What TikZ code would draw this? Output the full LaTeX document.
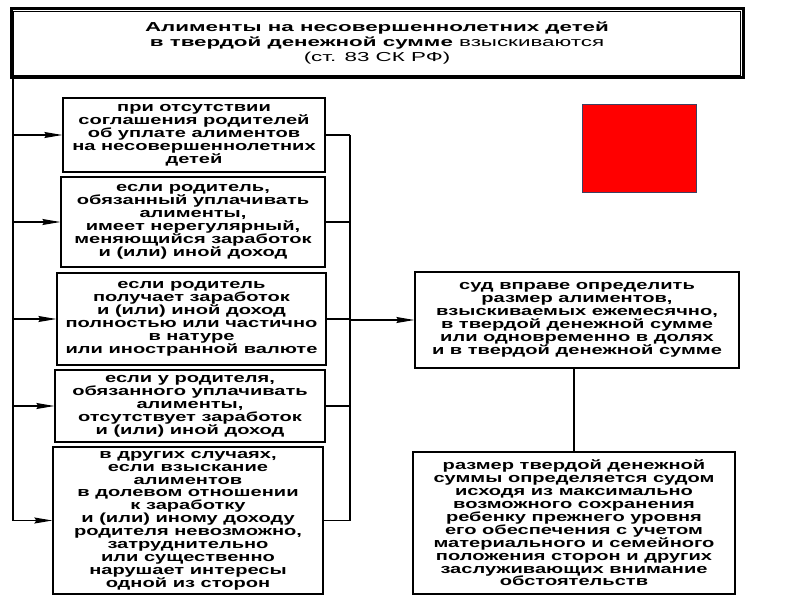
\documentclass[tikz,border=0pt]{standalone}
\usepackage{fontspec}
\setmainfont{Liberation Sans}
\newfontfamily\bodyf{Liberation Sans}[FakeStretch=1.52]
\newfontfamily\titlef{Liberation Sans}[FakeStretch=1.72]
\usetikzlibrary{arrows.meta}
\tikzset{
  box/.style={draw=black, line width=1.3pt, inner sep=0pt, align=center,
    font=\bodyf\bfseries\fontsize{13.2}{12.9}\selectfont, text=black},
  conn/.style={draw=black, line width=1.1pt},
  arr/.style={conn, -{Stealth[length=18pt,width=6pt,inset=2pt]}},
}
\begin{document}
\begin{tikzpicture}[x=1pt,y=-1pt]
\useasboundingbox (0,0) rectangle (800,600);
\fill[white] (0,0) rectangle (800,600);
% title box
\node[draw=black, line width=3pt, inner sep=0pt, minimum width=732pt, minimum height=69pt,
  align=center, font=\titlef\fontsize{13}{15}\selectfont] (top) at (377,43)
  {\bfseries Алименты на несовершеннолетних детей\\
   {\bfseries в твердой денежной сумме} взыскиваются\\
   (ст. 83 СК РФ)};
\draw[line width=0.8pt] ([shift={(4pt,4pt)}]top.south west) rectangle ([shift={(-4pt,-4pt)}]top.north east);
% left boxes
\node[box, minimum width=262pt, minimum height=74pt] (b1) at (194,135)
  {при отсутствии\\соглашения родителей\\об уплате алиментов\\на несовершеннолетних\\детей};
\node[box, minimum width=264pt, minimum height=90pt] (b2) at (193,222)
  {если родитель,\\обязанный уплачивать\\алименты,\\имеет нерегулярный,\\меняющийся заработок\\и (или) иной доход};
\node[box, minimum width=269pt, minimum height=92pt] (b3) at (191.5,319)
  {если родитель\\получает заработок\\и (или) иной доход\\полностью или частично\\в натуре\\или иностранной валюте};
\node[box, minimum width=270pt, minimum height=72pt] (b4) at (190,406)
  {если у родителя,\\обязанного уплачивать\\алименты,\\отсутствует заработок\\и (или) иной доход};
\node[box, minimum width=270pt, minimum height=147pt] (b5) at (188,520.5)
  {в других случаях,\\если взыскание\\алиментов\\в долевом отношении\\к заработку\\и (или) иному доходу\\родителя невозможно,\\затруднительно\\или существенно\\нарушает интересы\\одной из сторон};
% right boxes
\node[box, minimum width=324pt, minimum height=96pt] (r1) at (577,320)
  {суд вправе определить\\размер алиментов,\\взыскиваемых ежемесячно,\\в твердой денежной сумме\\или одновременно в долях\\и в твердой денежной сумме};
\node[box, minimum width=322pt, minimum height=142pt] (r2) at (574,523)
  {размер твердой денежной\\суммы определяется судом\\исходя из максимально\\возможного сохранения\\ребенку прежнего уровня\\его обеспечения с учетом\\материального и семейного\\положения сторон и других\\заслуживающих внимание\\обстоятельств};
% red square
\node[draw={rgb,255:red,64;green,64;blue,96}, line width=1pt, fill={rgb,255:red,255;green,0;blue,0},
  minimum width=114pt, minimum height=88pt, inner sep=0pt] (red) at (639,148) {};
% connectors
\coordinate (L) at (13,78);
\coordinate (R) at (350,135);
\draw[conn] (L) -- (L |- b5.west);
\foreach \b in {b1,b2,b3,b4,b5} {
  \draw[arr] (L |- \b.west) -- (\b.west);
  \draw[conn] (\b.east) -- (R |- \b.east);
}
\draw[conn] (R |- b1.east) -- (R |- b5.east);
\draw[arr] (R |- r1.west) -- (r1.west);
\draw[conn] (r2.north |- r1.south) -- (r2.north);
\end{tikzpicture}
\end{document}
